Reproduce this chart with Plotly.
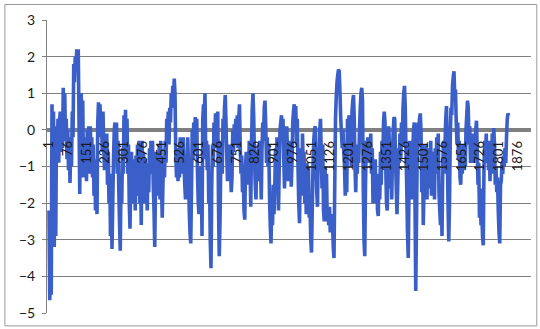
import plotly.graph_objects as go

# Observed series, sampled every 3rd observation, split into consecutive blocks
obs_block_1 = [
    -2.2, -4.65, -3.8, -4.5, 0.7, -2.8, 0.5, -3.2, -0.3, -2.9,
    0.1, -0.8, 0.3, -0.9, 0.2, 0.5, -0.6, 0.4, -0.5, 1.15,
    0.2, 1.0, -0.3, 0.3, -0.8, 0.0, -1.1, -0.2, -1.45, -0.4,
    -1.0, 0.5, -0.2, 1.8, 1.3, 2.0, 1.6, 2.2, 1.7, 2.2,
    0.3, -1.75, 0.5, 1.0, -0.6, 0.8, -1.3, -0.2, -1.0, -0.3,
    -1.4, 0.0, -0.8, 0.1, -1.2, 0.1, -0.6, -0.2, -1.3, -0.4,
    -1.8, -0.8, -2.2, -1.5, -2.3, 0.2, 0.75, 0.3, 0.7, -0.2,
    0.4, -0.6, 0.5, -0.5, -1.1, -0.3, -1.0, -0.1, -1.5, -0.6,
    -2.0, -1.2, -2.9, -1.8, -3.25, -2.0, -0.8, 0.0, 0.2, -0.4,
    0.2, -1.2, -0.3, -1.6, -2.5, -3.3, -1.4, -2.0, -0.5, -1.2,
    0.4, -0.8,
]
obs_block_2 = [
    0.55, -0.5, 0.3, -1.2, -0.4, -2.0, -2.7, -1.3, -0.6, -1.6,
    -0.8, -2.0, -1.0, -2.2, -0.7, -1.8, -0.4, -1.5, -0.3, -2.0,
    -1.0, -2.6, -0.3, -1.4, -0.6, -2.0, -0.8, -1.9, -1.0, -2.2,
    -0.9, -1.7, -0.5, -1.2, -0.3, -0.9, -0.3, -1.5, -2.2, -3.2,
    -1.5, -0.6, -1.8, -0.7, -1.4, -0.4, -1.9, -0.3, -1.5, -2.4,
    -1.4, -0.8, -1.3, -0.3, -0.9, 0.3, -0.2, 0.5, -0.4, 0.6,
    0.2, 1.0, 0.6, 1.2, 0.9, 1.4, 1.0, -0.6, -1.3, -0.5,
    -1.4, -0.7, -1.3, -0.2, -1.2, -0.3, -1.0, -0.2, -0.8, -1.5,
    -1.9, -0.9, -1.8, -0.2, -1.0, -2.2, -2.8, -3.1, -1.6, 0.0,
    -0.8, 0.2, -0.5, 0.35, -0.6, 0.3, -1.2, -2.0, -2.3, -1.0,
    -2.0, -1.0, -2.9, 0.3, 0.7, 0.4,
]
obs_block_3 = [
    1.0, -0.8, -0.3, -1.1, -0.4, -2.0, -1.2, -3.0, -3.78, -1.5,
    -0.4, -1.0, 0.2, -0.5, 0.45, -0.3, 0.3, 0.5, -2.0, -3.45,
    -2.5, -1.0, -0.3, -1.2, 0.3, -0.2, 0.6, 0.95, 0.2, -0.7,
    -1.4, -0.6, -1.2, -0.4, -1.0, -1.7, -1.3, 0.0, -0.6, 0.15,
    -0.4, 0.3, -0.2, 0.4, -0.5, 0.3, 0.7, -0.5, -1.2, -0.7,
    -1.7, -1.2, -2.2, -2.45, -1.0, -0.6, -1.5, -0.8, -1.4, -0.3,
    -1.0, -2.1, -0.4, 0.6, 1.0, 0.3, -0.8, -1.5, -1.9, -0.6,
    -1.4, -0.4, -1.2, -0.3, -1.0, -1.9, -0.5, 0.2, -0.3, 0.6,
    0.8, 0.1, -0.9, -0.2, -1.0, -0.4, -1.8, -2.6, -3.1, -2.0,
    -2.6, -1.5, -2.3, -1.6, -0.5, -1.3, -0.2, -1.0, -2.2, -1.0,
    0.0, 0.2, 0.4, -0.3, 0.3,
]
obs_block_4 = [
    -0.8, -1.6, -0.5, -1.3, 0.1, -0.6, -1.4, -0.5, -1.2, -0.3,
    -1.55, -0.9, 0.2, 0.5, 0.7, 0.1, 0.65, -0.4, 0.3, -1.0,
    -2.0, -2.55, -1.2, -0.5, -1.8, -0.1, -1.0, -0.6, -2.0, -1.2,
    -2.3, -0.9, -2.0, -1.0, -2.4, -2.0, -3.0, -3.35, -2.2, -1.0,
    -0.3, 0.0, 0.1, -0.8, -1.7, -2.1, -0.5, -1.1, 0.0, 0.3,
    -0.6, -1.6, -0.4, -2.2, -2.5, -1.0, -2.0, -1.2, -2.5, -2.2,
    -2.6, -2.1, -2.8, -2.3, -2.7, -2.5, -3.2, -3.5, -1.5, 0.3,
    0.9, 1.3, 1.5, 1.65, 1.6, 1.0, 0.3, -0.1, -0.5, 0.0,
    -0.6, -1.0, -1.8, -1.2, -1.7, 0.3, -0.5, 0.4, -0.3, 0.0,
    -1.0, 0.5, 0.8, 0.95, 0.3, -1.0, -1.7, -0.5, -1.2, -0.4,
    -0.9, 0.0, 0.6, 1.0, 1.15, 0.8,
]
obs_block_5 = [
    -1.5, -3.0, -3.45, -1.5, -0.3, -0.8, -0.2, -0.9, -0.4, -0.8,
    -0.1, -1.2, -0.5, -2.0, -1.0, -1.8, -0.8, -2.0, -1.2, -2.2,
    -2.35, -1.2, -1.9, -0.6, -1.5, -0.3, -1.0, 0.2, 0.5, 0.2,
    -1.0, -2.0, -2.2, -0.8, 0.1, -0.5, -1.6, -0.3, -1.9, -0.6,
    0.0, 0.35, 0.3, -0.8, -1.6, -2.3, -1.5, -0.5, -0.9, -0.1,
    -0.8, 0.2, -0.4, 0.6, 1.0, 1.2, 0.6, -0.6, -1.6, -2.8,
    -3.5, -1.6, -0.3, -1.2, -0.5, -1.9, -0.6, 0.0, 0.2, -2.0,
    -4.4, -2.5, -0.5, 0.2, -0.3, 0.3, 0.45, 0.0, -1.7, -0.4,
    -2.6, -1.6, -0.6, -1.7, -0.4, -1.9, -0.7, -1.6, -0.5, -1.4,
    -0.3, -1.8, -0.6, -1.5, -0.8, -1.9, -0.5, -1.2, -0.2, -0.9,
    -0.1, -1.7, -2.2, -2.6, -1.5,
]
obs_block_6 = [
    -2.9, -1.0, -0.3, -1.2, -0.4, 0.3, 0.65, -0.5, -2.0, -3.05,
    -2.0, -0.2, 0.6, 0.4, 1.2, 1.45, 1.6, 0.9, 1.1, 0.2,
    -0.4, 0.2, -0.8, -0.3, -1.3, -1.5, -0.6, -1.2, -0.4, -1.1,
    -0.5, -1.0, 0.0, 0.4, 0.8, 0.6, -0.4, 0.1, -0.9, -0.2,
    -0.8, -0.1, -0.9, -0.3, -0.8, 0.0, 0.25, -0.6, -1.5, -0.9,
    -2.4, -1.6, -2.6, -2.2, -2.9, -3.15, -1.0, -0.3, -0.8, -0.1,
    -0.9, -0.3, -1.1, -0.3, -1.4, -0.4, -1.2, -0.1, -0.6, 0.05,
    -0.4, -1.5, -1.0, -1.7, -1.3, -2.2, -2.8, -3.1, -1.5, -1.4,
    -0.9, -1.2, -0.7, -1.0, -0.5, -0.9, -0.2, 0.3, 0.45, 0.4,
]

sample_step = 3
values = obs_block_1 + obs_block_2 + obs_block_3 + obs_block_4 + obs_block_5 + obs_block_6
obs_index = list(range(1, 1 + sample_step * len(values), sample_step))

# Category labels every 75 observations
tick_positions = [1, 76, 151, 226, 301, 376, 451, 526, 601, 676, 751, 826, 901,
                  976, 1051, 1126, 1201, 1276, 1351, 1426, 1501, 1576, 1651,
                  1726, 1801, 1876]
tick_labels = [str(t) for t in tick_positions]
y_ticks = [3, 2, 1, 0, -1, -2, -3, -4, -5]

FONT = "Lato, 'Liberation Sans', sans-serif"
GRID = "#808080"

fig = go.Figure()
fig.add_trace(go.Scatter(
    x=obs_index, y=values, mode="lines",
    line=dict(color="#3b5fc9", width=3.6, simplify=False),
    hoverinfo="skip", showlegend=False,
))

fig.update_layout(
    width=540, height=329,
    margin=dict(l=47, r=9, t=20, b=16),
    paper_bgcolor="white", plot_bgcolor="white",
    font=dict(family=FONT, color="#1a1a1a"),
    xaxis=dict(
        range=[-7, 1929],
        tickmode="array", tickvals=tick_positions, ticktext=tick_labels,
        tickangle=-90, tickfont=dict(size=13, family=FONT, color="#1a1a1a"),
        anchor="free", position=0.625,
        showgrid=False, zeroline=False, showline=False,
        ticks="outside", ticklen=5, tickcolor="rgba(0,0,0,0)",
        layer="above traces",
    ),
    yaxis=dict(
        range=[-5, 3],
        tickmode="array", tickvals=y_ticks,
        tickfont=dict(size=14, family=FONT, color="#1a1a1a"),
        showgrid=True, gridcolor=GRID, gridwidth=1,
        zeroline=True, zerolinecolor="#808080", zerolinewidth=4,
        showline=True, linecolor=GRID, linewidth=1,
        ticks="outside", ticklen=4, tickcolor=GRID,
        ticklabelstandoff=4,
    ),
    shapes=[dict(
        type="rect", xref="paper", yref="paper",
        x0=-0.087, x1=1.012, y0=-0.044, y1=1.053,
        line=dict(color="#9a9a9a", width=1), layer="below",
    )],
)

fig.write_html("out.html")
